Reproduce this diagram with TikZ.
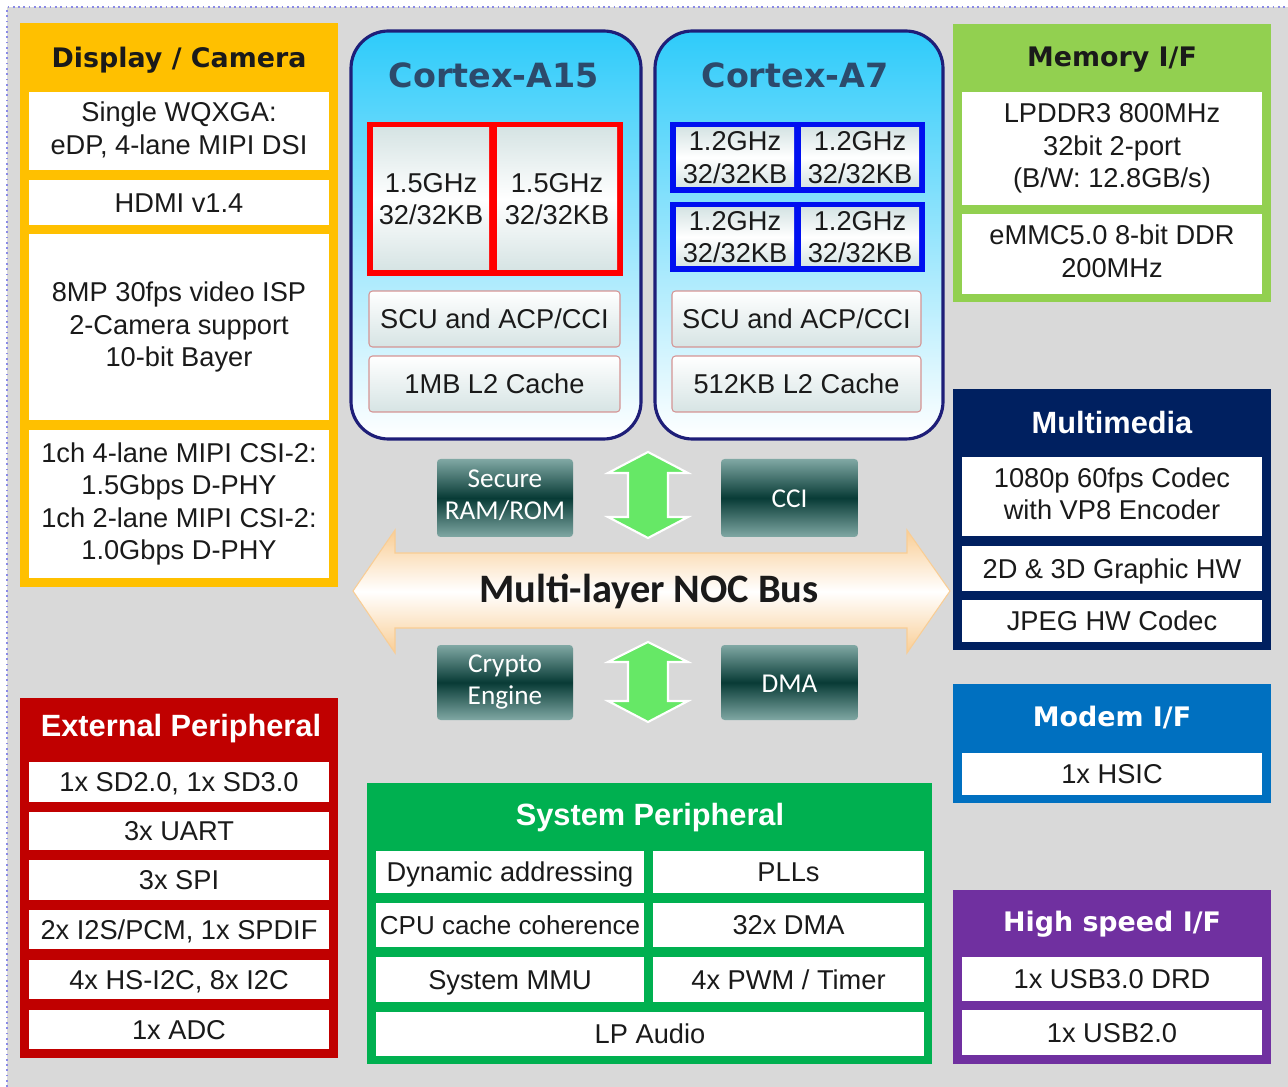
\documentclass[tikz,border=0pt]{standalone}
\usepackage{fontspec}
\setmainfont{Liberation Sans}
\newfontfamily\verdfont{DejaVu Sans}
\newfontfamily\calfont{Carlito}
\usepackage{tikz}
\newcommand\capstrut{\rule[-0.21em]{0pt}{1.14em}}
\definecolor{bg}{HTML}{D9D9D9}
\definecolor{frame}{HTML}{8A8AE6}
\definecolor{ink}{HTML}{1A1A1A}
\definecolor{dispC}{HTML}{FFC000}
\definecolor{memC}{HTML}{92D050}
\definecolor{mmC}{HTML}{002060}
\definecolor{modemC}{HTML}{0070C0}
\definecolor{hsC}{HTML}{7030A0}
\definecolor{extC}{HTML}{C00000}
\definecolor{sysC}{HTML}{00B050}
\definecolor{cpuTop}{HTML}{2ECBFA}
\definecolor{cpuEdge}{HTML}{1E1E78}
\definecolor{cpuText}{HTML}{2C4A6B}
\definecolor{bigC}{HTML}{FF0000}
\definecolor{littleC}{HTML}{0010F0}
\definecolor{cellTop}{HTML}{D6E4E4}
\definecolor{scuEdge}{HTML}{D49494}
\definecolor{tealD}{HTML}{083B36}
\definecolor{tealL}{HTML}{80A8A4}
\definecolor{busC}{HTML}{F9CD94}
\definecolor{linkC}{HTML}{66E866}
\tikzset{
  box/.style n args={4}{minimum width={(#3-#1)*0.02cm}, minimum height={(#4-#2)*0.02cm},
    at={({(#1+#3)/2},{(#2+#4)/2})}},
  plain/.style={font=\fontsize{15.5}{18.4}\selectfont, text=ink, align=center, inner sep=0pt},
  txt/.style={plain, execute at begin node=\capstrut, execute at end node=\capstrut},
  item/.style={txt, fill=white},
  cell/.style={plain, top color=cellTop, bottom color=cellTop, middle color=white},
  scu/.style={txt, draw=scuEdge, line width=0.6pt, rounded corners=2pt, top color=white, bottom color=cellTop},
  headV/.style={font=\fontsize{15.3}{18}\selectfont\verdfont\bfseries, text=ink},
  headT/.style={font=\fontsize{17.5}{20}\selectfont\bfseries, text=white},
  cpu/.style={draw=cpuEdge, line width=1.8pt, rounded corners=0.75cm, top color=cpuTop, bottom color=white},
  cpuhead/.style={font=\fontsize{19}{22}\selectfont\verdfont\bfseries, text=cpuText},
  teal/.style={inner sep=0pt, rounded corners=2pt, top color=tealL, bottom color=tealL, middle color=tealD,
    text=white, align=center, font=\fontsize{15.5}{18.2}\selectfont\calfont,
    execute at begin node=\capstrut, execute at end node=\capstrut},
  bus/.style={draw=busC, line width=0.6pt, top color=busC, bottom color=busC, middle color=white},
  link/.style={fill=linkC, draw=white, line width=1.2pt}
}
\begin{document}
\begin{tikzpicture}[x=0.02cm, y=-0.02cm]
  \useasboundingbox (0,0) rectangle (1288,1087);
  \fill[white] (0,0) rectangle (1288,1087);
  \fill[bg] (7,7) rectangle (1288,1087);
  \draw[frame, dotted, line width=1pt] (7,1087) -- (7,7) -- (1288,7);

  \fill[dispC] (20,23) rectangle (338,587);
  \node[headV] (dispT) at (179,60) {Display / Camera};
  \node[item, box={29}{92}{329}{170}] (disp1) {Single WQXGA:\\eDP, 4-lane MIPI DSI};
  \node[item, box={29}{180}{329}{225}] (disp2) {HDMI v1.4};
  \node[item, box={29}{234}{329}{420}] (disp3) {8MP 30fps video ISP\\2-Camera support\\10-bit Bayer};
  \node[item, box={29}{430}{329}{578}] (disp4) {1ch 4-lane MIPI CSI-2:\\1.5Gbps D-PHY\\1ch 2-lane MIPI CSI-2:\\1.0Gbps D-PHY};

  \draw[cpu] (351,31) rectangle (641,439);
  \node[cpuhead] (bigT) at (494,75) {Cortex-A15};
  \fill[bigC] (367,122) rectangle (623,276);
  \node[cell, box={373}{128}{489}{270}] (big1) {1.5GHz\\32/32KB};
  \node[cell, box={497}{128}{617}{270}] (big2) {1.5GHz\\32/32KB};
  \node[scu, box={369}{291}{620}{347}] (bigS) {SCU and ACP/CCI};
  \node[scu, box={369}{356}{620}{412}] (bigL) {1MB L2 Cache};

  \draw[cpu] (655,31) rectangle (943,439);
  \node[cpuhead] (litT) at (795,75) {Cortex-A7};
  \fill[littleC] (670,122) rectangle (925,193);
  \fill[littleC] (670,202) rectangle (925,272);
  \node[cell, box={676}{128}{794}{187}] (lit1) {1.2GHz\\32/32KB};
  \node[cell, box={801}{128}{919}{187}] (lit2) {1.2GHz\\32/32KB};
  \node[cell, box={676}{208}{794}{266}] (lit3) {1.2GHz\\32/32KB};
  \node[cell, box={801}{208}{919}{266}] (lit4) {1.2GHz\\32/32KB};
  \node[scu, box={672}{291}{921}{347}] (litS) {SCU and ACP/CCI};
  \node[scu, box={672}{356}{921}{412}] (litL) {512KB L2 Cache};

  \path[bus] (353,591) -- (395,530) -- (395,553) -- (907,553) -- (907,530) -- (950,591)
    -- (907,653) -- (907,628) -- (395,628) -- (395,653) -- cycle;
  \node[font=\fontsize{23}{26}\selectfont\calfont\bfseries, text=ink] (noc) at (649,591) {Multi-layer NOC Bus};

  \node[teal, box={437}{459}{573}{537}] (sec) {Secure\\RAM/ROM};
  \node[teal, box={721}{459}{858}{537}] (cci) {CCI};
  \node[teal, box={437}{645}{573}{720}] (cry) {Crypto\\Engine};
  \node[teal, box={721}{645}{858}{720}] (dma) {DMA};

  \path[link] (648,452) -- (688,473) -- (668,473) -- (668,517) -- (688,517) -- (648,538)
    -- (608,517) -- (628,517) -- (628,473) -- (608,473) -- cycle;
  \path[link] (648,642) -- (688,662) -- (668,662) -- (668,701) -- (688,701) -- (648,722)
    -- (608,701) -- (628,701) -- (628,662) -- (608,662) -- cycle;

  \fill[memC] (953,24) rectangle (1271,302);
  \node[headV] (memT) at (1112,60) {Memory I/F};
  \node[item, box={962}{92}{1262}{205}] (mem1) {LPDDR3 800MHz\\32bit 2-port\\(B/W: 12.8GB/s)};
  \node[item, box={962}{214}{1262}{294}] (mem2) {eMMC5.0 8-bit DDR\\200MHz};

  \fill[mmC] (953,389) rectangle (1271,650);
  \node[headT] (mmT) at (1112,423) {Multimedia};
  \node[item, box={962}{457}{1262}{536}] (mm1) {1080p 60fps Codec\\with VP8 Encoder};
  \node[item, box={962}{546}{1262}{591}] (mm2) {2D \& 3D Graphic HW};
  \node[item, box={962}{600}{1262}{642}] (mm3) {JPEG HW Codec};

  \fill[modemC] (953,684) rectangle (1271,803);
  \node[headV, text=white] (modT) at (1112,718) {Modem I/F};
  \node[item, box={962}{753}{1262}{795}] (mod1) {1x HSIC};

  \fill[hsC] (953,890) rectangle (1271,1064);
  \node[headV, text=white] (hsT) at (1112,924) {High speed I/F};
  \node[item, box={962}{957}{1262}{1001}] (hs1) {1x USB3.0 DRD};
  \node[item, box={962}{1010}{1262}{1055}] (hs2) {1x USB2.0};

  \fill[extC] (20,698) rectangle (338,1058);
  \node[headT] (extT) at (181,729) {External Peripheral};
  \node[item, box={29}{762}{329}{802}] (ext1) {1x SD2.0, 1x SD3.0};
  \node[item, box={29}{812}{329}{850}] (ext2) {3x UART};
  \node[item, box={29}{860}{329}{900}] (ext3) {3x SPI};
  \node[item, box={29}{910}{329}{949}] (ext4) {2x I2S/PCM, 1x SPDIF};
  \node[item, box={29}{960}{329}{999}] (ext5) {4x HS-I2C, 8x I2C};
  \node[item, box={29}{1010}{329}{1049}] (ext6) {1x ADC};

  \fill[sysC] (367,783) rectangle (932,1064);
  \node[headT] (sysT) at (650,818) {System Peripheral};
  \node[item, box={376}{851}{644}{893}] (sys1) {Dynamic addressing};
  \node[item, box={653}{851}{924}{893}] (sys2) {PLLs};
  \node[item, box={376}{903}{644}{947}, font=\fontsize{14.8}{18}\selectfont] (sys3) {CPU cache coherence};
  \node[item, box={653}{903}{924}{947}] (sys4) {32x DMA};
  \node[item, box={376}{957}{644}{1002}] (sys5) {System MMU};
  \node[item, box={653}{957}{924}{1002}] (sys6) {4x PWM / Timer};
  \node[item, box={376}{1012}{924}{1056}] (sys7) {LP Audio};
\end{tikzpicture}
\end{document}
